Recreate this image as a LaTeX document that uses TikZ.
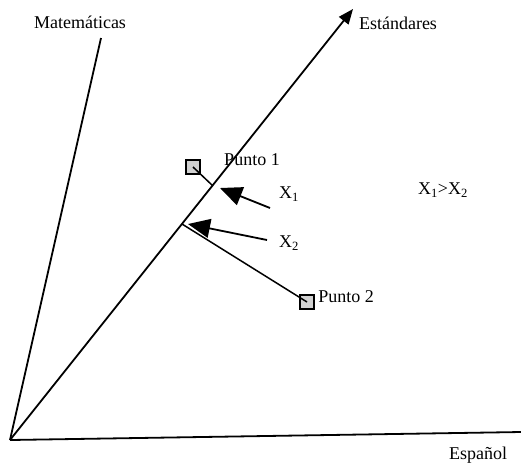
\documentclass[tikz,border=0pt]{standalone}
\usepackage{fontspec}
\setmainfont{Liberation Serif}
\usetikzlibrary{arrows.meta}
\begin{document}
\begin{tikzpicture}[x=1pt,y=-1pt,
  axis/.style={line width=1.8pt},
  pt/.style={draw=black,fill=black!18,line width=1.1pt,minimum size=14pt,inner sep=0pt},
  lbl/.style={font=\fontsize{18}{21}\selectfont,inner sep=0pt},
  bigarrow/.style={line width=1.8pt,-{Triangle[length=22pt,width=19pt]}}]
\useasboundingbox (0,0) rectangle (521,467);
\coordinate (O) at (10,440);
\coordinate (M) at (101,38);
\coordinate (S) at (353,9);
\coordinate (E) at (521,432);
\draw[axis] (O) -- (M);
\draw[axis,-{Triangle[length=15pt,width=12pt]}] (O) -- (S);
\draw[axis] (O) -- (E);
\node[lbl] (lm) at (80,22) {Matemáticas};
\node[lbl] (ls) at (398,23) {Estándares};
\node[lbl] (le) at (478,455) {Español};
\node[pt] (p1) at (193,167) {};
\node[pt] (p2) at (307,302) {};
\coordinate (f1) at (213,186);
\coordinate (f2) at (182,224);
\draw[line width=1.5pt] (p1.center) -- (f1);
\draw[line width=1.5pt] (p2.center) -- (f2);
\node[lbl] (t1) at (252,160) {Punto 1};
\node[lbl] (t2) at (346,297) {Punto 2};
\coordinate (a1s) at (270,208);
\coordinate (a1e) at (220,188);
\coordinate (a2s) at (267,240);
\coordinate (a2e) at (188,224);
\draw[bigarrow] (a1s) -- (a1e);
\draw[bigarrow] (a2s) -- (a2e);
\node[lbl] (x1) at (289,194) {X\textsubscript{1}};
\node[lbl] (x2) at (289,243) {X\textsubscript{2}};
\node[lbl] (xx) at (443,190) {X\textsubscript{1}>X\textsubscript{2}};
\end{tikzpicture}
\end{document}
